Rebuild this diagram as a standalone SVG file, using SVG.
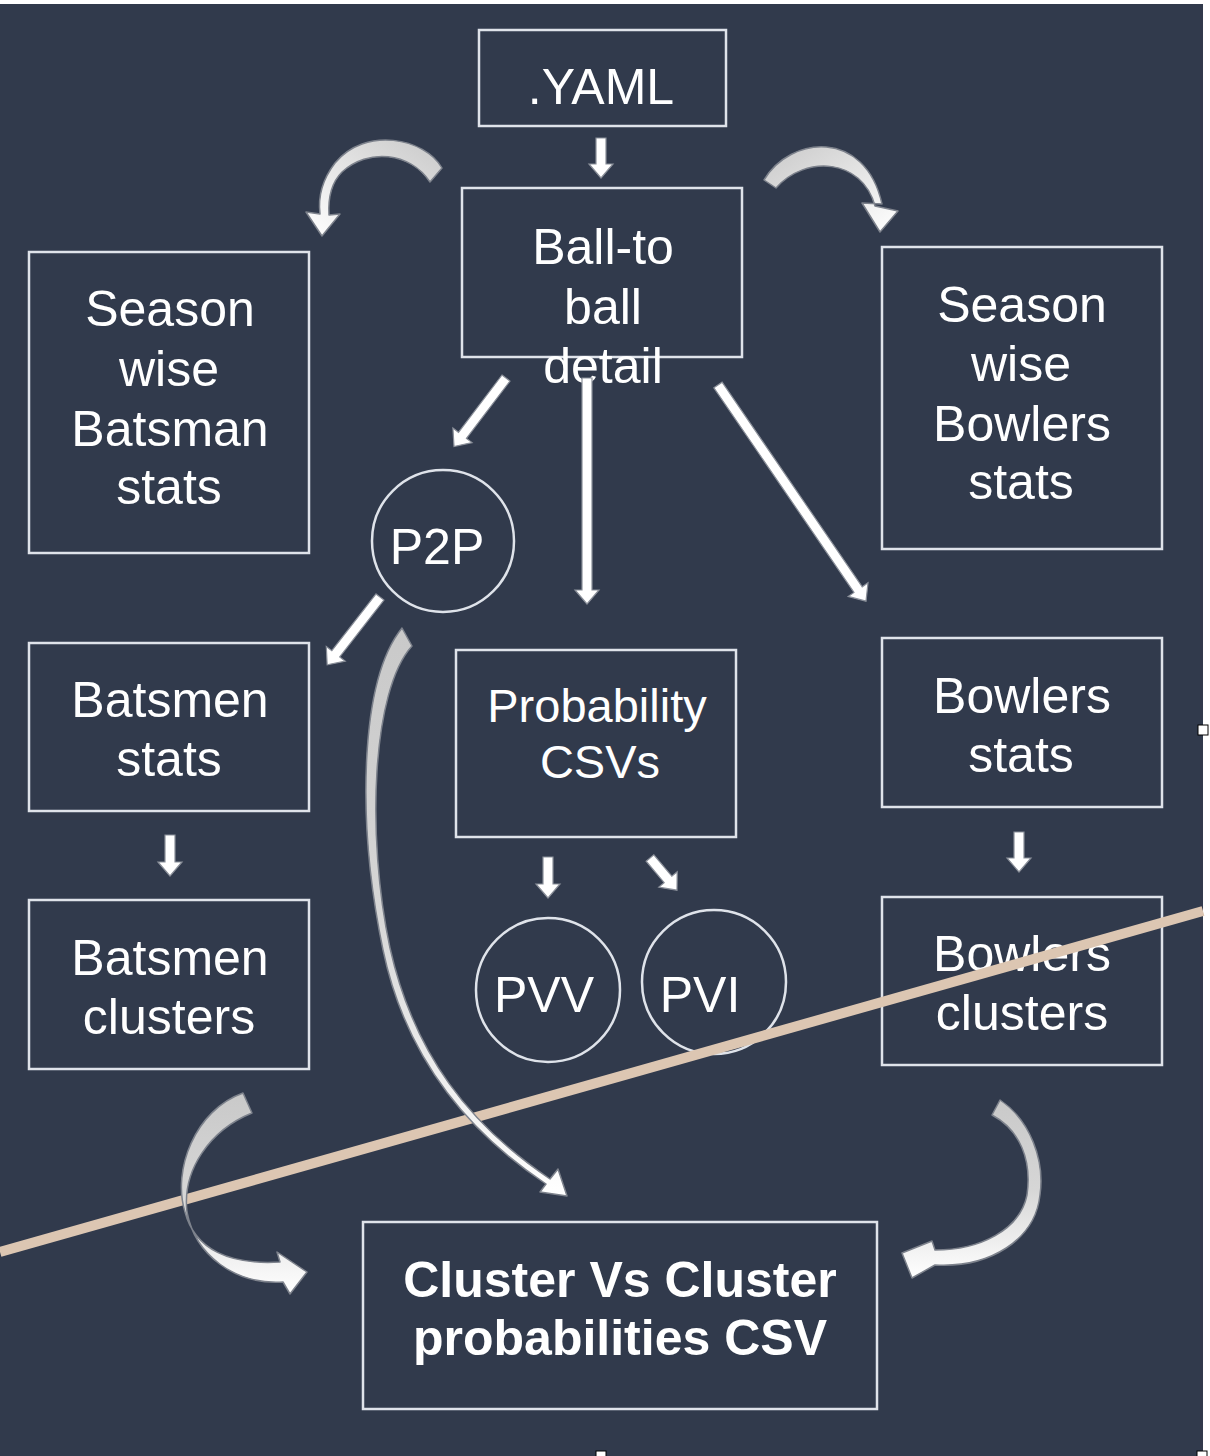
<svg xmlns="http://www.w3.org/2000/svg" width="1210" height="1456" viewBox="0 0 1210 1456">
<defs>
<style>
.box{fill:none;stroke:#dfe3ea;stroke-width:2.5}
.t{font-family:"Liberation Sans",Arial,sans-serif;font-size:50px;fill:#ffffff;text-anchor:middle}
.tb{font-family:"Liberation Sans",Arial,sans-serif;font-size:50px;font-weight:bold;fill:#ffffff;text-anchor:middle}
.arr{fill:#ffffff;stroke:#8a8f99;stroke-width:1.2}
.carr{stroke:#7d828c;stroke-width:1.5;stroke-linejoin:round}
</style>
<linearGradient id="gTL" x1="1" y1="0" x2="0" y2="1"><stop offset="0" stop-color="#c9c9c9"/><stop offset="1" stop-color="#ffffff"/></linearGradient>
<linearGradient id="gTR" x1="0" y1="0" x2="1" y2="1"><stop offset="0" stop-color="#c9c9c9"/><stop offset="1" stop-color="#ffffff"/></linearGradient>
<linearGradient id="gV" x1="0" y1="0" x2="0" y2="1"><stop offset="0" stop-color="#c9c9c9"/><stop offset="0.5" stop-color="#d6d6d6"/><stop offset="1" stop-color="#ffffff"/></linearGradient>
</defs>
<rect x="0" y="0" width="1210" height="1456" fill="#ffffff"/>
<rect x="0" y="4" width="1203" height="1452" fill="#313a4c"/>

<g id="yaml"><rect class="box" x="479" y="30" width="247" height="96"/><text class="t" x="601" y="104">.YAML</text></g>
<g id="ball"><rect class="box" x="462" y="188" width="280" height="169"/><text class="t" x="603" y="264">Ball-to</text><text class="t" x="603" y="324">ball</text><text class="t" x="603" y="383">detail</text></g>
<g id="season-batsman"><rect class="box" x="29" y="252" width="280" height="301"/><text class="t" x="170" y="326">Season</text><text class="t" x="169" y="386">wise</text><text class="t" x="170" y="446">Batsman</text><text class="t" x="169" y="504">stats</text></g>
<g id="season-bowlers"><rect class="box" x="882" y="247" width="280" height="302"/><text class="t" x="1022" y="322">Season</text><text class="t" x="1021" y="381">wise</text><text class="t" x="1022" y="441">Bowlers</text><text class="t" x="1021" y="499">stats</text></g>
<g id="p2p"><circle class="box" cx="443" cy="541" r="71"/><text class="t" x="437" y="564">P2P</text></g>
<g id="batsmen-stats"><rect class="box" x="29" y="643" width="280" height="168"/><text class="t" x="170" y="717">Batsmen</text><text class="t" x="169" y="776">stats</text></g>
<g id="prob"><rect class="box" x="456" y="650" width="280" height="187"/><text class="t" x="597" y="722" style="font-size:47px">Probability</text><text class="t" x="600" y="778" style="font-size:47px">CSVs</text></g>
<g id="bowlers-stats"><rect class="box" x="882" y="638" width="280" height="169"/><text class="t" x="1022" y="713">Bowlers</text><text class="t" x="1021" y="772">stats</text></g>
<g id="batsmen-clusters"><rect class="box" x="29" y="900" width="280" height="169"/><text class="t" x="170" y="975">Batsmen</text><text class="t" x="169" y="1034">clusters</text></g>
<g id="pvv"><circle class="box" cx="548" cy="990" r="72"/><text class="t" x="544" y="1012">PVV</text></g>
<g id="pvi"><circle class="box" cx="714" cy="982" r="72"/><text class="t" x="700" y="1012">PVI</text></g>
<g id="bowlers-clusters"><rect class="box" x="882" y="897" width="280" height="168"/><text class="t" x="1022" y="971">Bowlers</text><text class="t" x="1022" y="1030">clusters</text></g>
<g id="cvc"><rect class="box" x="363" y="1222" width="514" height="187"/><text class="tb" x="620" y="1297">Cluster Vs Cluster</text><text class="tb" x="620" y="1355">probabilities CSV</text></g>

<line x1="0" y1="1252" x2="1203" y2="911" stroke="#dcc6b2" stroke-width="10"/>

<g id="connectors">
<path class="arr" transform="translate(601,138)" d="M-5 0H5V26H12L0 40L-12 26H-5Z"/>
<path class="arr" transform="translate(506,378) rotate(37.2)" d="M-5 0H5V72H12L0 86L-12 72H-5Z"/>
<path class="arr" transform="translate(587,378) rotate(0)" d="M-5 0H5V212H12L0 226L-12 212H-5Z"/>
<path class="arr" transform="translate(718,385) rotate(-34.4)" d="M-5 0H5V248H12L0 262L-12 248H-5Z"/>
<path class="arr" transform="translate(380,597) rotate(37.9)" d="M-5 0H5V72H12L0 86L-12 72H-5Z"/>
<path class="arr" transform="translate(170,835)" d="M-5 0H5V27H12L0 41L-12 27H-5Z"/>
<path class="arr" transform="translate(548,857)" d="M-5 0H5V27H12L0 41L-12 27H-5Z"/>
<path class="arr" transform="translate(650,858) rotate(-40)" d="M-5 0H5V28H12L0 42L-12 28H-5Z"/>
<path class="arr" transform="translate(1019,832)" d="M-5 0H5V26H12L0 40L-12 26H-5Z"/>

<path class="carr" fill="url(#gTL)" d="M442 168C425 138 365 126 335 163C322 180 318 198 320 214L306 212L322 236L340 214L329 215C328 198 332 182 342 172C368 148 410 152 430 182Z"/>
<path class="carr" fill="url(#gTR)" d="M764 180C790 136 865 128 882 204L862 203L880 232L898 211L875 206C862 158 805 155 776 188Z"/>
<path class="carr" fill="url(#gV)" d="M402 628C360 680 356 820 383 950C405 1055 465 1130 546 1184L540 1192L567 1196L558 1169L550 1179C470 1125 414 1055 390 948C366 835 372 690 412 646Z"/>
<path class="carr" fill="url(#gV)" d="M243 1093C195 1110 172 1170 185 1212C195 1250 230 1265 280 1262L277 1252L307 1272L290 1294L283 1282C235 1285 195 1255 187 1212C182 1170 210 1130 252 1113Z"/>
<path class="carr" fill="url(#gV)" d="M1000 1100C1030 1120 1045 1160 1040 1195C1035 1240 990 1268 935 1265L912 1278L902 1253L932 1241L935 1250C980 1250 1020 1230 1027 1195C1032 1160 1020 1130 992 1115Z"/>
</g>

<rect x="1198" y="725" width="10" height="10" fill="#ffffff" stroke="#000000" stroke-width="1"/>
<rect x="596" y="1451" width="10" height="10" fill="#ffffff" stroke="#000000" stroke-width="1"/>
<rect x="1197" y="1451" width="10" height="10" fill="#ffffff" stroke="#000000" stroke-width="1"/>
</svg>
